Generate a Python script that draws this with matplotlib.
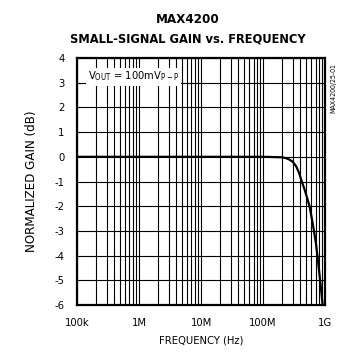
import matplotlib
matplotlib.use('Agg')
import matplotlib.pyplot as plt
from matplotlib.ticker import FixedLocator, LogLocator, NullFormatter

# Data
freq = [1e5, 1e6, 1e7, 5e7, 1e8, 1.5e8, 2e8, 2.3e8, 2.6e8, 3e8, 3.4e8, 3.8e8,
        4.2e8, 4.7e8, 5.1e8, 5.6e8, 6.1e8, 6.6e8, 7.1e8, 7.5e8, 7.9e8,
        8.3e8, 8.7e8, 9.1e8]
gain = [0, 0, 0, 0, 0, -0.01, -0.02, -0.05, -0.1, -0.2, -0.38, -0.65,
        -1.0, -1.35, -1.65, -2.0, -2.5, -3.0, -3.5, -4.0, -4.5,
        -5.0, -5.5, -6.0]

x_ticks = [1e5, 1e6, 1e7, 1e8, 1e9]
x_labels = ['100k', '1M', '10M', '100M', '1G']
y_ticks = [4, 3, 2, 1, 0, -1, -2, -3, -4, -5, -6]

plt.rcParams['font.family'] = ['Liberation Sans Narrow', 'DejaVu Sans']
plt.rcParams['font.stretch'] = 'condensed'
plt.rcParams['mathtext.default'] = 'regular'

fig = plt.figure(figsize=(3.5, 3.58), dpi=100)
ax = fig.add_axes([0.22, 0.148, 0.709, 0.69])

ax.plot(freq, gain, color='black', linewidth=1.6, zorder=3)
ax.set_xscale('log')
ax.set_xlim(1e5, 1e9)
ax.set_ylim(-6, 4)

ax.xaxis.set_major_locator(FixedLocator(x_ticks))
ax.set_xticklabels(x_labels)
ax.xaxis.set_minor_locator(LogLocator(base=10, subs=range(2, 10), numticks=20))
ax.xaxis.set_minor_formatter(NullFormatter())
ax.set_yticks(y_ticks)
ax.set_yticklabels([str(v) for v in y_ticks])

ax.grid(True, which='both', axis='x', color='black', linewidth=0.8)
ax.grid(True, which='major', axis='y', color='black', linewidth=0.8)
ax.tick_params(which='both', length=0, labelsize=8, pad=9)
for s in ax.spines.values():
    s.set_linewidth(1.6)

ax.set_xlabel('FREQUENCY (Hz)', fontsize=8, labelpad=6)
ax.set_ylabel('NORMALIZED GAIN (dB)', fontsize=9.5, labelpad=12)

ax.text(1.5e5, 3.25, 'V$_{OUT}$ = 100mV$_{P-P}$', fontsize=8, va='center',
        bbox=dict(facecolor='white', edgecolor='none', pad=1.5), zorder=4)

fig.text(0.537, 0.935, 'MAX4200', fontsize=9.5, fontweight='bold', ha='center')
fig.text(0.537, 0.88, 'SMALL-SIGNAL GAIN vs. FREQUENCY', fontsize=9.2,
         fontweight='bold', ha='center')
fig.text(0.952, 0.755, 'MAX4200/25-01', fontsize=5, rotation=90, ha='center', va='center')

plt.savefig('out.png', dpi=100)
